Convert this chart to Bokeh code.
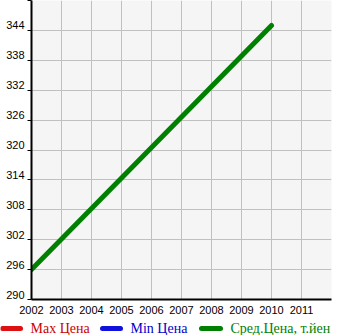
from bokeh.plotting import figure
from bokeh.layouts import column
from bokeh.models import FixedTicker, Range1d, LinearAxis
from bokeh.core.properties import value
from bokeh.embed import file_html
from bokeh.resources import INLINE

# data
years = [2002, 2010]
avg_price = [296, 345]
x_ticks = list(range(2002, 2013))
y_ticks = list(range(290, 351, 6))
y_label_ticks = list(range(290, 345, 6))
legend_labels = ["Max Цена", "Min Цена", "Сред.Цена, т.йен"]
legend_colors = ["#dd1111", "#1111dd", "#008000"]
legend_text_colors = ["#cc0000", "#0000cc", "#008000"]
legend_line_x0 = [2, 102, 201]
legend_line_x1 = [20, 120, 220]
legend_text_x = [30, 130, 230]

p = figure(width=345, height=316, output_backend="svg", toolbar_location=None,
           x_range=Range1d(2002, 2012), y_range=Range1d(290, 350),
           min_border_left=31, min_border_right=14, min_border_top=0, min_border_bottom=16)
p.frame_align = False
p.outline_line_color = None
p.border_fill_color = "white"
p.background_fill_color = "#f5f5f5"
# shifted range so the tick labels sit just above their grid lines
p.extra_y_ranges = {"lbl": Range1d(290 - 1.0, 350 - 1.0)}

p.xaxis.ticker = FixedTicker(ticks=x_ticks)
p.xaxis.major_label_overrides = {2012: ""}
p.yaxis.ticker = FixedTicker(ticks=y_ticks)
p.yaxis.major_label_overrides = {v: "" for v in y_ticks}
for ax in (p.xaxis, p.yaxis):
    ax.axis_line_color = "black"
    ax.axis_line_width = 2
    ax.major_tick_line_color = "black"
    ax.minor_tick_line_color = None
    ax.minor_tick_out = 0
    ax.minor_tick_in = 0
    ax.major_tick_in = 0
    ax.major_label_text_font = "Liberation Sans"
    ax.major_label_text_font_size = "11px"
    ax.major_label_text_color = "black"
p.xaxis.major_tick_out = 0
p.xaxis.major_label_standoff = 6
p.yaxis.major_tick_out = 4
p.yaxis.major_label_standoff = 0

lbl_axis = LinearAxis(y_range_name="lbl", ticker=FixedTicker(ticks=y_label_ticks),
                      axis_line_color=None,
                      major_tick_line_color=None, major_tick_in=0, major_tick_out=0,
                      minor_tick_line_color=None, minor_tick_in=0, minor_tick_out=0,
                      major_label_standoff=3,
                      major_label_text_font="Liberation Sans",
                      major_label_text_font_size="11px",
                      major_label_text_color="black")
p.add_layout(lbl_axis, "left")

p.xgrid.ticker = FixedTicker(ticks=x_ticks)
p.ygrid.ticker = FixedTicker(ticks=y_ticks)
p.grid.grid_line_color = "#c0c0c0"
p.grid.grid_line_width = 1

p.line(years, avg_price, line_color="#008000", line_width=5, line_cap="round")

lg = figure(width=345, height=19, output_backend="svg", toolbar_location=None,
            x_range=Range1d(0, 345), y_range=Range1d(0, 19),
            min_border=0)
lg.frame_align = False
lg.axis.visible = False
lg.grid.visible = False
lg.outline_line_color = None
lg.segment(x0=legend_line_x0, y0=[7, 7, 7], x1=legend_line_x1, y1=[7, 7, 7],
           line_color=legend_colors, line_width=5, line_cap="round")
lg.text(x=legend_text_x, y=[7, 7, 7], text=legend_labels, text_color=legend_text_colors,
        text_font=value("Liberation Serif"), text_font_size="14px",
        text_baseline="middle", text_align="left")

layout = column(p, lg, spacing=0)
open("out.html", "w").write(file_html(layout, INLINE))
